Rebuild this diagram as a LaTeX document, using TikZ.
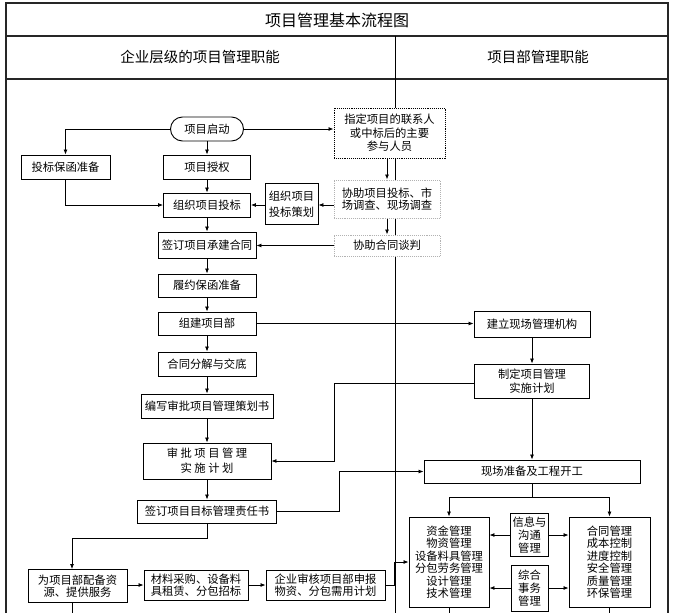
\documentclass[tikz,border=0pt]{standalone}
\usepackage{fontspec}
\newfontfamily\cjk{Noto Sans CJK SC}
\usetikzlibrary{arrows.meta}
\begin{document}
\begin{tikzpicture}[x=1pt,y=-1pt,
  box/.style={draw, line width=0.9pt, fill=white, inner sep=0pt, align=center,
    font=\cjk\fontsize{11.3}{12.5}\selectfont, text=black},
  sz/.style 2 args={minimum width=#1, minimum height=#2},
  dotbox/.style={densely dotted, line width=1pt},
  graybox/.style={draw=gray!60, densely dotted, line width=1pt},
  arr/.style={-{Latex[length=5pt,width=4pt]}, line width=0.8pt},
  ln/.style={line width=0.8pt},
  hdr/.style={font=\cjk\fontsize{14.5}{15}\selectfont, text=black},
  frame/.style={line width=1.2pt, draw=black!85}]
\useasboundingbox (0,0) rectangle (674,613);
\fill[white] (0,0) rectangle (674,613);
% frame
\draw[frame] (6,613) -- (6,3) -- (668,3) -- (668,613);
\draw[frame] (6,36) -- (668,36);
\draw[frame] (6,79) -- (668,79);
\draw[line width=1pt] (395,36) -- (395,613);
\node[font=\cjk\fontsize{16}{16}\selectfont, text=black] (title) at (337,20) {项目管理基本流程图};
\node[hdr] (h1) at (200,57) {企业层级的项目管理职能};
\node[hdr] (h2) at (538,57) {项目部管理职能};
% nodes
\node[box, sz={73}{24}, rounded corners=12] (start) at (207,129) {项目启动};
\node[box, dotbox, sz={111}{50}, font=\cjk\fontsize{11.3}{13.5}\selectfont] (zd) at (389.5,133) {指定项目的联系人\\或中标后的主要\\参与人员};
\node[box, sz={89}{24}] (tbbh) at (65.5,167) {投标保函准备};
\node[box, sz={87}{24}] (sq) at (207,167) {项目授权};
\node[box, sz={87}{24}] (zz) at (207,205) {组织项目投标};
\node[box, sz={53}{41}, font=\cjk\fontsize{11.3}{16}\selectfont] (ch) at (291.5,204) {组织项目\\投标策划};
\node[box, graybox, sz={106}{38}] (xz1) at (387,199) {协助项目投标、市\\场调查、现场调查};
\node[box, graybox, sz={106}{21}] (xz2) at (387,245.5) {协助合同谈判};
\node[box, sz={98}{26}] (qd) at (207,245) {签订项目承建合同};
\node[box, sz={98}{23}] (ly) at (207,285.5) {履约保函准备};
\node[box, sz={98}{23}] (zj) at (207,323.5) {组建项目部};
\node[box, sz={98}{24}] (fj) at (207,364) {合同分解与交底};
\node[box, sz={132}{24}] (bx) at (207,406) {编写审批项目管理策划书};
\node[box, sz={128}{36}, font=\cjk\fontsize{11.3}{15}\selectfont] (sp) at (207,461) {审 批 项 目 管 理\\实 施 计 划};
\node[box, sz={139}{23}] (zr) at (207,511.5) {签订项目目标管理责任书};
\node[box, sz={116}{26}] (jl) at (532,324) {建立现场管理机构};
\node[box, sz={115}{34}, font=\cjk\fontsize{11.3}{13.5}\selectfont] (zd2) at (532,381) {制定项目管理\\实施计划};
\node[box, sz={216}{23}] (xc) at (532,471.5) {现场准备及工程开工};
\node[box, sz={99}{33}] (pb) at (77.5,586) {为项目部配备资\\源、提供服务};
\node[box, sz={104}{30}] (cl) at (196,585) {材料采购、设备料\\具租赁、分包招标};
\node[box, sz={119}{30}] (sh) at (325.5,585) {企业审核项目部申报\\物资、分包需用计划};
\node[box, sz={80}{90}] (zjg) at (449,562) {资金管理\\物资管理\\设备料具管理\\分包劳务管理\\设计管理\\技术管理};
\node[box, sz={38}{43}, font=\cjk\fontsize{11.3}{13}\selectfont] (xx) at (529.5,535) {信息与\\沟通\\管理};
\node[box, sz={37}{46}, font=\cjk\fontsize{11.3}{13}\selectfont] (zh) at (529.5,588) {综合\\事务\\管理};
\node[box, sz={81}{90}] (htg) at (609.5,562) {合同管理\\成本控制\\进度控制\\安全管理\\质量管理\\环保管理};
% helper coordinates
\coordinate (c1) at (334,383);
\coordinate (c3) at (339,0);
\coordinate (c4) at (72,538);
\coordinate (c5) at (394,0);
\coordinate (c6) at (0,497);
\coordinate (bot) at (0,613);
% connectors
\draw[arr] (start.east) -- (start.east -| zd.west);
\draw[arr] (start.west) -| (tbbh.north);
\draw[arr] (start) -- (sq);
\draw[arr] (sq) -- (zz);
\draw[arr] (tbbh.south) |- (zz.west);
\draw[arr] (ch.west |- zz) -- (zz.east);
\draw[arr] (xz1.west |- zz) -- (ch.east |- zz);
\draw[arr] (xz1.north |- zd.south) -- (xz1.north);
\draw[arr] (xz1) -- (xz2);
\draw[arr] (xz2.west) -- (xz2.west -| qd.east);
\draw[arr] (zz) -- (qd);
\draw[arr] (qd) -- (ly);
\draw[arr] (ly) -- (zj);
\draw[arr] (zj) -- (fj);
\draw[arr] (fj) -- (bx);
\draw[arr] (bx) -- (sp);
\draw[arr] (sp) -- (zr);
\draw[arr] (zj.east) -- (zj.east -| jl.west);
\draw[arr] (jl) -- (zd2);
\draw[arr] (zd2.west |- c1) -- (c1) |- (sp.east);
\draw[arr] (zd2) -- (xc);
\draw[arr] (zr.east) -| (c3 |- xc.west) -- (xc.west);
\draw[arr] (zr.south) |- (c4) -- (c4 |- pb.north);
\draw[arr] (pb.east |- cl.west) -- (cl.west);
\draw[arr] (cl) -- (sh);
\draw[arr] (sh.east) -| (c5 |- zjg.west) -- (zjg.west);
\draw[ln] (xc.south) -- (xc.south |- c6);
\draw[ln] (zjg.north |- c6) -- (htg.north |- c6);
\draw[arr] (zjg.north |- c6) -- (zjg.north);
\draw[arr] (htg.north |- c6) -- (htg.north);
\draw[arr] (xx.west) -- (xx.west -| zjg.east);
\draw[arr] (xx.east) -- (xx.east -| htg.west);
\draw[arr] (zh.west) -- (zh.west -| zjg.east);
\draw[arr] (zh.east) -- (zh.east -| htg.west);
\draw[ln] (c4 |- pb.south) -- (c4 |- bot);
\draw[ln] (zjg.south) -- (zjg.south |- bot);
\draw[ln] (htg.south) -- (htg.south |- bot);
\end{tikzpicture}
\end{document}
